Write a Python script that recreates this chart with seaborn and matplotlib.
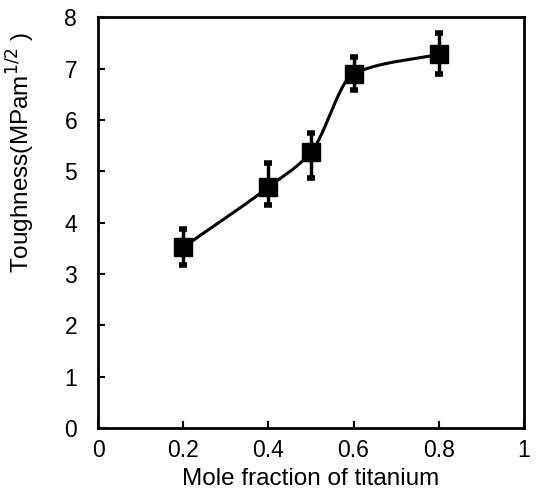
import numpy as np
import pandas as pd
import matplotlib
matplotlib.use("Agg")
import matplotlib.pyplot as plt
import seaborn as sns

# values
mole_fraction = [0.2, 0.4, 0.5, 0.6, 0.8]
toughness = [3.52, 4.69, 5.37, 6.90, 7.28]
err_low = [3.17, 4.34, 4.86, 6.58, 6.89]
err_high = [3.87, 5.17, 5.74, 7.22, 7.70]

sns.set_style("ticks")
plt.rcParams['font.family'] = ['Liberation Sans', 'DejaVu Sans']
plt.rcParams['text.color'] = 'black'
plt.rcParams['axes.labelcolor'] = 'black'


def pchip(x, y, xs):
    # monotone cubic curve through the points, just for the smooth line
    x = np.asarray(x, float)
    y = np.asarray(y, float)
    h = np.diff(x)
    d = np.diff(y) / h
    m = np.zeros_like(y)
    for k in range(1, len(x) - 1):
        if d[k - 1] * d[k] > 0:
            w1 = 2 * h[k] + h[k - 1]
            w2 = h[k] + 2 * h[k - 1]
            m[k] = (w1 + w2) / (w1 / d[k - 1] + w2 / d[k])
    m[0] = d[0]
    m[-1] = d[-1]
    out = np.empty_like(xs)
    for i, xv in enumerate(xs):
        k = min(np.searchsorted(x, xv, side='right') - 1, len(x) - 2)
        t = (xv - x[k]) / h[k]
        h00 = 2 * t**3 - 3 * t**2 + 1
        h10 = t**3 - 2 * t**2 + t
        h01 = -2 * t**3 + 3 * t**2
        h11 = t**3 - t**2
        out[i] = h00 * y[k] + h10 * h[k] * m[k] + h01 * y[k + 1] + h11 * h[k] * m[k + 1]
    return out


xs = np.linspace(mole_fraction[0], mole_fraction[-1], 300)
curve = pd.DataFrame({"x": xs, "y": pchip(mole_fraction, toughness, xs)})

fig = plt.figure(figsize=(5.37, 4.91), dpi=100)
ax = fig.add_axes([0.1825, 0.128, 0.793, 0.837])

sns.lineplot(data=curve, x="x", y="y", color="black", linewidth=2.2, ax=ax)

yerr = [np.array(toughness) - np.array(err_low), np.array(err_high) - np.array(toughness)]
ax.errorbar(mole_fraction, toughness, yerr=yerr, fmt='s', color='black',
            markersize=12.5, elinewidth=2.5, capsize=3, capthick=4, zorder=3)

ax.set_xlim(0, 1)
ax.set_ylim(0, 8)
ax.set_xticks([0, 0.2, 0.4, 0.6, 0.8, 1])
ax.set_xticklabels(["0", "0.2", "0.4", "0.6", "0.8", "1"])
ax.set_yticks(range(0, 9))
ax.tick_params(direction='in', length=5, width=1.5, labelsize=16.5, colors='black')
ax.tick_params(axis='x', pad=8)
ax.tick_params(axis='y', pad=15)
for s in ax.spines.values():
    s.set_linewidth(2)
    s.set_color('black')

ax.set_xlabel("Mole fraction of titanium", fontsize=17.5, color='black')
ax.set_ylabel("Toughness(MPam$^{1/2}$ )", fontsize=17.5, color='black')
ax.xaxis.set_label_coords(0.5, -0.098)
ax.yaxis.set_label_coords(-0.143, 0.67)

fig.savefig("out.png", dpi=100)
